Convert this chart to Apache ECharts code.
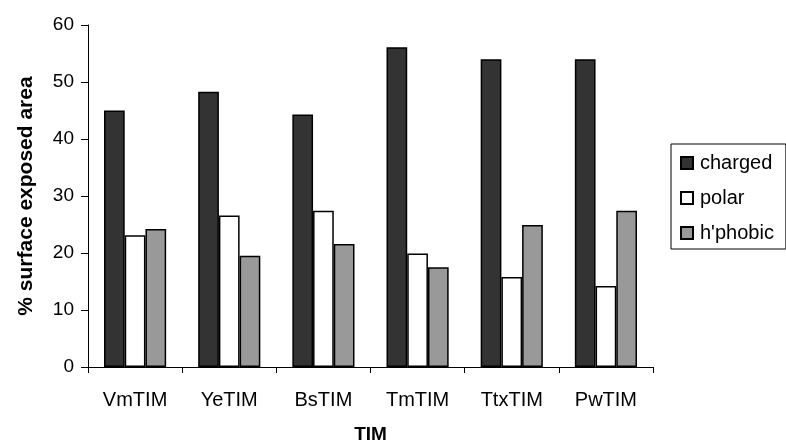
<!DOCTYPE html>
<html>
<head>
<meta charset="utf-8">
<script src="https://cdn.jsdelivr.net/npm/echarts@6/dist/echarts.min.js"></script>
<style>
  html, body { margin: 0; padding: 0; background: #fff; }
  #chart { width: 786px; height: 443px; }
</style>
</head>
<body>
<div id="chart"></div>
<script>
// categories and series values
const categories = ['VmTIM', 'YeTIM', 'BsTIM', 'TmTIM', 'TtxTIM', 'PwTIM'];
const charged = [45.0, 48.3, 44.3, 56.1, 54.0, 54.0];
const polar = [23.1, 26.6, 27.4, 19.9, 15.8, 14.2];
const hphobic = [24.2, 19.5, 21.6, 17.5, 24.9, 27.4];
const yTicks = [0, 10, 20, 30, 40, 50, 60];

const FONT = '"Liberation Sans", Arial, sans-serif';

const chart = echarts.init(document.getElementById('chart'));

// shared bar style
const barSeries = (name, data, color) => ({
    name: name,
    type: 'bar',
    data: data,
    barGap: '0%',
    barCategoryGap: '34%',
    itemStyle: { color: color, borderColor: '#000', borderWidth: 1.5 }
});

const option = {
    animation: false,
    backgroundColor: '#fff',
    textStyle: { fontFamily: FONT },
    grid: { left: 88, right: 133, top: 25, bottom: 76, containLabel: false, outerBoundsMode: 'none' },
    legend: {
        orient: 'vertical',
        left: 671,
        top: 144,
        padding: [9, 12, 6, 9],
        itemGap: 15,
        itemWidth: 12,
        itemHeight: 12,
        borderColor: '#000',
        borderWidth: 1,
        icon: 'rect',
        textStyle: { fontFamily: FONT, fontSize: 20, color: '#000', padding: [0, 0, 0, 2] },
        data: ['charged', 'polar', "h'phobic"]
    },
    xAxis: {
        type: 'category',
        data: categories,
        name: 'TIM',
        nameLocation: 'middle',
        nameGap: 58,
        nameMoveOverlap: false,
        nameTextStyle: { fontFamily: FONT, fontSize: 19, fontWeight: 'bold', color: '#000' },
        axisLine: { lineStyle: { color: '#000', width: 1 } },
        axisTick: { show: true, length: 6, lineStyle: { color: '#000' } },
        axisLabel: { fontFamily: FONT, fontSize: 20, color: '#000', margin: 23 }
    },
    yAxis: {
        type: 'value',
        min: yTicks[0],
        max: yTicks[yTicks.length - 1],
        interval: 10,
        name: '% surface exposed area',
        nameLocation: 'middle',
        nameGap: 51,
        nameMoveOverlap: false,
        nameTextStyle: { fontFamily: FONT, fontSize: 21, fontWeight: 'bold', color: '#000' },
        axisLine: { show: true, lineStyle: { color: '#000', width: 1 } },
        axisTick: { show: true, length: 7, lineStyle: { color: '#000' } },
        axisLabel: { fontFamily: FONT, fontSize: 19, color: '#000', margin: 14 },
        splitLine: { show: false }
    },
    series: [
        barSeries('charged', charged, '#333333'),
        barSeries('polar', polar, '#ffffff'),
        barSeries("h'phobic", hphobic, '#999999')
    ]
};

chart.setOption(option);
</script>
</body>
</html>
